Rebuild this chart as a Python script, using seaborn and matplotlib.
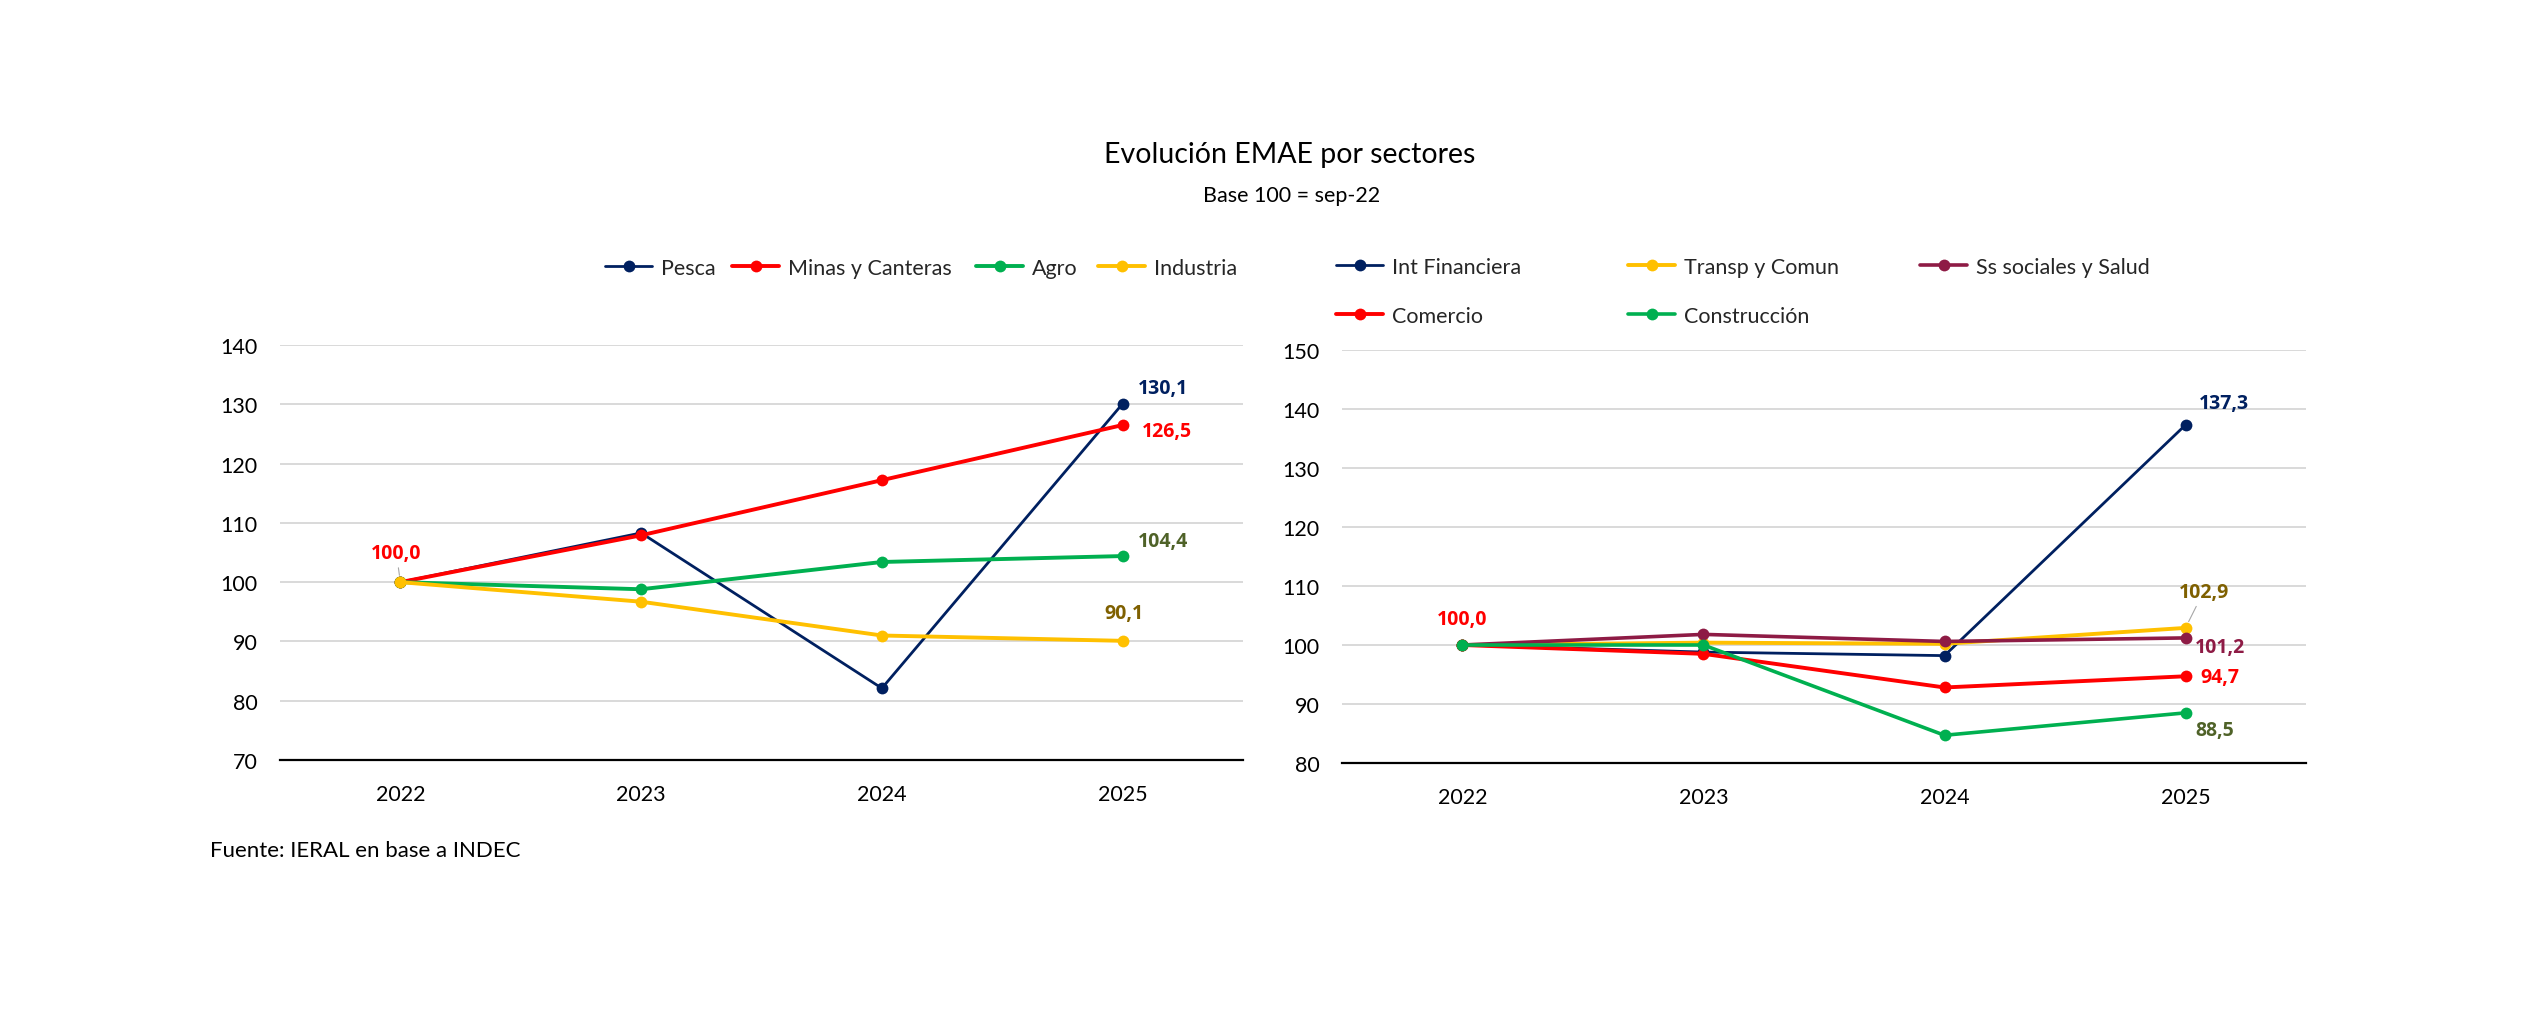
import matplotlib
matplotlib.use("Agg")
import matplotlib.pyplot as plt
import seaborn as sns

# ---------------- data ----------------
years = ["2022", "2023", "2024", "2025"]

left_names = ["Pesca", "Minas y Canteras", "Agro", "Industria"]
pesca = [100.0, 108.3, 82.1, 130.1]
minas = [100.0, 107.9, 117.2, 126.5]
agro = [100.0, 98.8, 103.4, 104.4]
industria = [100.0, 96.7, 91.0, 90.1]

right_names = ["Int Financiera", "Transp y Comun", "Ss sociales y Salud", "Comercio", "Construcción"]
int_fin = [100.0, 98.8, 98.2, 137.3]
transp = [100.0, 100.4, 100.2, 102.9]
ss_salud = [100.0, 101.8, 100.6, 101.2]
comercio = [100.0, 98.5, 92.8, 94.7]
construccion = [100.0, 100.0, 84.7, 88.5]

left_yticks = [70, 80, 90, 100, 110, 120, 130, 140]
right_yticks = [80, 90, 100, 110, 120, 130, 140, 150]

title = "Evolución EMAE por sectores"
subtitle = "Base 100 = sep-22"
source = "Fuente: IERAL en base a INDEC"

# ---------------- style ----------------
NAVY = "#002060"
RED = "#FF0000"
GREEN = "#00B050"
YELLOW = "#FFC000"
MAROON = "#8E1B45"
DKGREEN = "#4F6228"
OLIVE = "#7F6000"
GRID = "#D9D9D9"

sns.set_style("white")
plt.rcParams["font.family"] = ["Lato", "DejaVu Sans"]

W, H = 2534, 1012
fig = plt.figure(figsize=(W / 100, H / 100), dpi=100)

def fx(px):
    return px / W

def fy(py):
    return 1 - py / H

axL = fig.add_axes([fx(280), fy(761), fx(1243) - fx(280), fy(346) - fy(761)])
axR = fig.add_axes([fx(1342), fy(764), fx(2306) - fx(1342), fy(351) - fy(764)])

left_series = [(left_names[0], pesca, NAVY, 2.0),
               (left_names[1], minas, RED, 2.8),
               (left_names[2], agro, GREEN, 2.8),
               (left_names[3], industria, YELLOW, 2.8)]
right_series = [(right_names[0], int_fin, NAVY, 2.0),
                (right_names[1], transp, YELLOW, 2.8),
                (right_names[2], ss_salud, MAROON, 2.6),
                (right_names[3], comercio, RED, 2.8),
                (right_names[4], construccion, GREEN, 2.6)]

def draw(ax, series, yticks):
    for name, vals, col, lw in series:
        sns.lineplot(x=years, y=vals, ax=ax, color=col, lw=lw, marker="o",
                     markersize=8.5, markeredgewidth=0, label=name, sort=False)
    if ax.get_legend() is not None:
        ax.get_legend().remove()
    ax.set_xlim(-0.5, len(years) - 0.5)
    ax.set_ylim(yticks[0], yticks[-1])
    ax.set_yticks(yticks)
    ax.set_yticklabels([str(t) for t in yticks])
    ax.yaxis.grid(True, color=GRID, lw=1.4)
    ax.xaxis.grid(False)
    ax.set_axisbelow(True)
    for s in ["top", "left", "right"]:
        ax.spines[s].set_visible(False)
    ax.spines["bottom"].set_color("#000000")
    ax.spines["bottom"].set_linewidth(1.6)
    ax.tick_params(axis="both", length=0, labelsize=15.5, colors="#000000")
    ax.tick_params(axis="y", pad=16)
    ax.tick_params(axis="x", pad=17)
    ax.set_xlabel("")
    ax.set_ylabel("")

draw(axL, left_series, left_yticks)
draw(axR, right_series, right_yticks)

def lab(ax, xi, val, dx, dy, col, leader=False):
    kw = {}
    if leader:
        kw["arrowprops"] = dict(arrowstyle="-", color="#A6A6A6", lw=0.8, shrinkA=1, shrinkB=5)
    ax.annotate(f"{val:.1f}".replace(".", ","), xy=(xi, val), xytext=(dx, dy),
                textcoords="offset pixels", ha="center", va="center",
                fontsize=14, fontweight="bold", family=["Open Sans", "DejaVu Sans"],
                color=col, **kw)

# left labels
lab(axL, 0, pesca[0], -4, 29, RED, leader=True)
lab(axL, 3, pesca[3], 40, 16, NAVY)
lab(axL, 3, minas[3], 44, -6, RED)
lab(axL, 3, agro[3], 40, 15, DKGREEN)
lab(axL, 3, industria[3], 1, 28, OLIVE)
# right labels
lab(axR, 0, int_fin[0], 0, 26, RED)
lab(axR, 3, int_fin[3], 38, 22, NAVY)
lab(axR, 3, transp[3], 18, 36, OLIVE, leader=True)
lab(axR, 3, ss_salud[3], 34, -9, MAROON)
lab(axR, 3, comercio[3], 34, -1, RED)
lab(axR, 3, construccion[3], 29, -17, DKGREEN)

# legends
hL, lL = axL.get_legend_handles_labels()
hR, lR = axR.get_legend_handles_labels()
leg_kw = dict(frameon=False, borderpad=0, borderaxespad=0, handlelength=2.2,
              handletextpad=0.4, fontsize=15.5, loc="center left")
left_pos = [(605, 269), (732, 269), (976, 269), (1098, 269)]
for h, l, (px, py) in zip(hL, lL, left_pos):
    fig.legend([h], [l], bbox_to_anchor=(fx(px), fy(py)), **leg_kw)
right_pos = [(1336, 268), (1628, 268), (1920, 268), (1336, 317), (1628, 317)]
for h, l, (px, py) in zip(hR, lR, right_pos):
    fig.legend([h], [l], bbox_to_anchor=(fx(px), fy(py)), **leg_kw)

fig.text(fx(1290), fy(163), title, ha="center", va="baseline", fontsize=20.5, color="#000000")
fig.text(fx(1292), fy(202), subtitle, ha="center", va="baseline", fontsize=15.5, color="#000000")
fig.text(fx(210), fy(857), source, ha="left", va="baseline", fontsize=16, color="#000000")

fig.savefig("out.png", dpi=100, facecolor="white")
